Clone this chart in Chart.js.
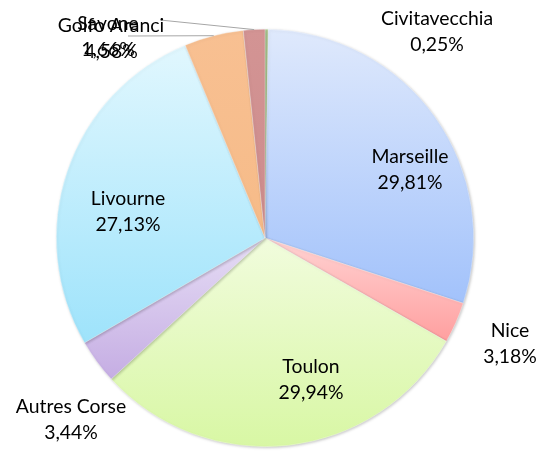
<!DOCTYPE html>
<html>
<head>
<meta charset="utf-8">
<script src="https://cdn.jsdelivr.net/npm/chart.js@4"></script>
<style>
  html, body { margin: 0; padding: 0; background: #fff; }
  #wrap { width: 555px; height: 453px; }
</style>
</head>
<body>
<div id="wrap"><canvas id="chart" width="555" height="453"></canvas></div>
<script>
// data, clockwise from 12 o'clock
const ports = ['Civitavecchia', 'Marseille', 'Nice', 'Toulon', 'Autres Corse', 'Livourne', 'Golfo Aranci', 'Savone'];
const shares = [0.25, 29.81, 3.18, 29.94, 3.44, 27.13, 4.58, 1.66];

// top / bottom colour of each slice gradient
const topColors = ['#b5d197', '#dfe9fc', '#ffd3d3', '#f1fcdd', '#e6ddf5', '#e1f7fe', '#f8c092', '#d39494'];
const botColors = ['#acc98c', '#a2c2fb', '#ff9f9f', '#d8f7a4', '#c5ade3', '#9ee3fb', '#f6bb88', '#cd8c8c'];

// label anchors: centre x, baseline of first line
const labelPos = [
  [437, 25], [410, 163], [510, 337], [311, 373],
  [71, 413], [128, 205], [111, 32], [108, 30]
];
const lineGap = 25.5;
const withLeader = [false, false, false, false, false, false, true, true];
const leaderFrom = [null, null, null, null, null, null, [128, 36], [160, 20]];

const fmt = v => v.toFixed(2).replace('.', ',') + '%';

function sliceFill(context) {
  const chart = context.chart;
  const area = chart.chartArea;
  if (!area) return topColors[context.dataIndex];
  const i = context.dataIndex;
  const total = shares.reduce((a, b) => a + b, 0);
  let before = 0;
  for (let k = 0; k < i; k++) before += shares[k];
  const a0 = -Math.PI / 2 + before / total * 2 * Math.PI;
  const a1 = a0 + shares[i] / total * 2 * Math.PI;
  const cx = (area.left + area.right) / 2;
  const cy = (area.top + area.bottom) / 2;
  const r = Math.min(area.width, area.height) / 2;
  // vertical extent of the slice
  const ys = [cy, cy + r * Math.sin(a0), cy + r * Math.sin(a1)];
  for (const t of [-Math.PI / 2, Math.PI / 2, 3 * Math.PI / 2]) {
    if (t > a0 && t < a1) ys.push(cy + r * Math.sin(t));
  }
  const y0 = Math.min(...ys), y1 = Math.max(...ys);
  const g = chart.ctx.createLinearGradient(0, y0, 0, y1 === y0 ? y0 + 1 : y1);
  g.addColorStop(0, topColors[i]);
  g.addColorStop(1, botColors[i]);
  return g;
}

const shadowPlugin = {
  id: 'shadow',
  beforeDatasetsDraw(chart) {
    const ctx = chart.ctx;
    ctx.save();
    ctx.shadowColor = 'rgba(0,0,0,0.22)';
    ctx.shadowBlur = 3;
    ctx.shadowOffsetX = 1;
    ctx.shadowOffsetY = 1;
  },
  afterDatasetsDraw(chart) {
    chart.ctx.restore();
  }
};

const labelPlugin = {
  id: 'sliceLabels',
  afterDatasetsDraw(chart) {
    const ctx = chart.ctx;
    const arcs = chart.getDatasetMeta(0).data;
    ctx.save();
    // leader lines
    ctx.strokeStyle = '#a6a6a6';
    ctx.lineWidth = 1;
    arcs.forEach((arc, i) => {
      if (!withLeader[i]) return;
      const mid = (arc.startAngle + arc.endAngle) / 2;
      const ex = arc.x + Math.cos(mid) * arc.outerRadius;
      const ey = arc.y + Math.sin(mid) * arc.outerRadius;
      ctx.beginPath();
      ctx.moveTo(leaderFrom[i][0], leaderFrom[i][1]);
      ctx.lineTo(ex, ey);
      ctx.stroke();
    });
    // scale the font so the text is as wide as the reference (Calibri-like)
    const fam = 'Lato, "Open Sans", sans-serif';
    ctx.font = '20px ' + fam;
    const w = ctx.measureText('Marseille').width + ctx.measureText('Civitavecchia').width +
              ctx.measureText('Autres Corse').width;
    const px = Math.min(24, Math.max(15, 20 * 300 / w));
    ctx.font = px.toFixed(1) + 'px ' + fam;
    ctx.fillStyle = '#000';
    ctx.textAlign = 'center';
    ctx.textBaseline = 'alphabetic';
    ports.forEach((name, i) => {
      const [x, y] = labelPos[i];
      ctx.fillText(name, x, y);
      ctx.fillText(fmt(shares[i]), x, y + lineGap);
    });
    ctx.restore();
  }
};

new Chart(document.getElementById('chart').getContext('2d'), {
  type: 'pie',
  data: {
    labels: ports,
    datasets: [{
      data: shares,
      backgroundColor: sliceFill,
      borderColor: 'rgba(255,255,255,0.5)',
      borderWidth: 0.6
    }]
  },
  options: {
    responsive: false,
    animation: false,
    layout: { padding: { top: 29, bottom: 6, left: 56, right: 81 } },
    plugins: {
      legend: { display: false },
      tooltip: { enabled: false }
    }
  },
  plugins: [shadowPlugin, labelPlugin]
});
</script>
</body>
</html>
